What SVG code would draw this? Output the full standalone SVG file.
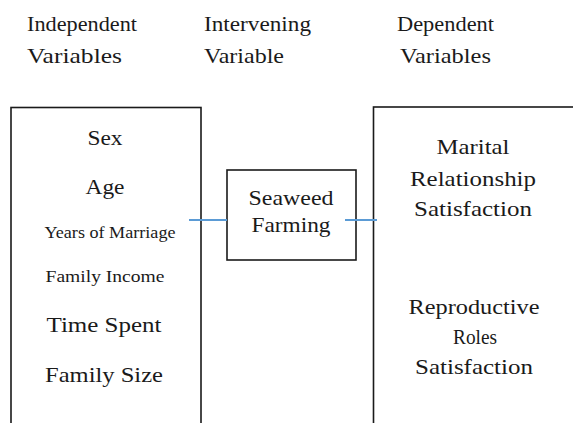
<svg xmlns="http://www.w3.org/2000/svg" width="573" height="423" viewBox="0 0 573 423">
<style>
text{font-family:"Liberation Serif","Times New Roman",serif;fill:#1a1a1a;font-size:22px}
.c{text-anchor:middle}
.s{font-size:17px}
.box{fill:none;stroke:#1a1a1a;stroke-width:1.6}
.con{stroke:#5b9bd5;stroke-width:2;fill:none}
</style>
<rect width="573" height="423" fill="#ffffff"/>
<g id="headers">
<text x="27" y="31" textLength="110" lengthAdjust="spacingAndGlyphs">Independent</text>
<text x="27" y="63" textLength="95" lengthAdjust="spacingAndGlyphs">Variables</text>
<text x="204" y="31" textLength="107" lengthAdjust="spacingAndGlyphs">Intervening</text>
<text x="204" y="63" textLength="80" lengthAdjust="spacingAndGlyphs">Variable</text>
<text x="397" y="31" textLength="97" lengthAdjust="spacingAndGlyphs">Dependent</text>
<text x="400" y="63" textLength="91" lengthAdjust="spacingAndGlyphs">Variables</text>
</g>
<g id="independent">
<rect class="box" x="11" y="107.5" width="190" height="340"/>
<text class="c" x="105" y="145" textLength="35" lengthAdjust="spacingAndGlyphs">Sex</text>
<text class="c" x="105" y="194" textLength="39" lengthAdjust="spacingAndGlyphs">Age</text>
<text class="c s" x="110" y="238" textLength="131" lengthAdjust="spacingAndGlyphs">Years of Marriage</text>
<text class="c s" x="105" y="282" textLength="119" lengthAdjust="spacingAndGlyphs">Family Income</text>
<text class="c" x="104" y="332" textLength="115" lengthAdjust="spacingAndGlyphs">Time Spent</text>
<text class="c" x="104" y="382" textLength="118" lengthAdjust="spacingAndGlyphs">Family Size</text>
</g>
<g id="intervening">
<rect class="box" x="227" y="170" width="129" height="90"/>
<text class="c" x="291" y="205" textLength="85" lengthAdjust="spacingAndGlyphs">Seaweed</text>
<text class="c" x="291" y="232" textLength="79" lengthAdjust="spacingAndGlyphs">Farming</text>
</g>
<g id="dependent">
<rect class="box" x="373.5" y="107" width="240" height="340"/>
<text class="c" x="473" y="154" textLength="73" lengthAdjust="spacingAndGlyphs">Marital</text>
<text class="c" x="473" y="186" textLength="126" lengthAdjust="spacingAndGlyphs">Relationship</text>
<text class="c" x="473" y="216" textLength="118" lengthAdjust="spacingAndGlyphs">Satisfaction</text>
<text class="c" x="474" y="314" textLength="131" lengthAdjust="spacingAndGlyphs">Reproductive</text>
<text class="c" x="475" y="344" textLength="44" lengthAdjust="spacingAndGlyphs">Roles</text>
<text class="c" x="474" y="374" textLength="118" lengthAdjust="spacingAndGlyphs">Satisfaction</text>
</g>
<g id="connectors">
<line class="con" x1="189" y1="220" x2="227" y2="220"/>
<line class="con" x1="345" y1="220" x2="377" y2="220"/>
</g>
</svg>
